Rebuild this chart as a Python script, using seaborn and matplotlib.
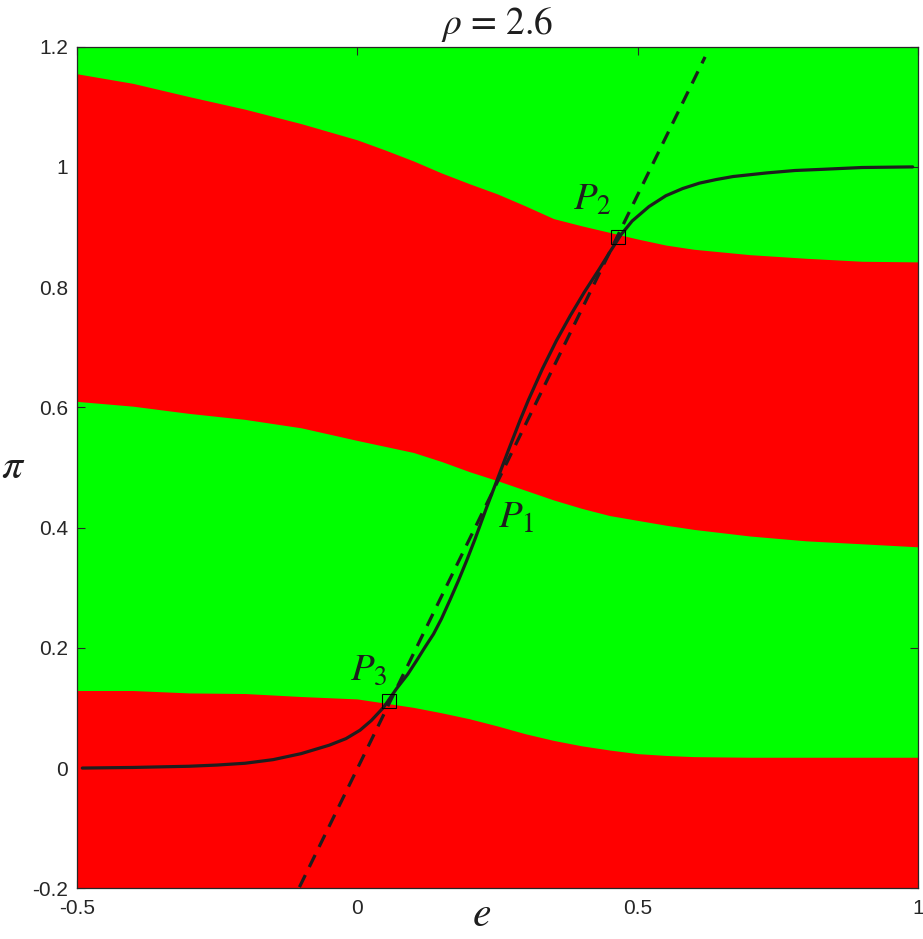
import numpy as np
import matplotlib
matplotlib.use("Agg")
import matplotlib.pyplot as plt
import seaborn as sns

# region boundaries (e on x, pi on y)
e_grid = [-0.5, -0.4, -0.3, -0.2, -0.1, 0.0, 0.05, 0.1, 0.15, 0.2, 0.25,
          0.3, 0.35, 0.4, 0.45, 0.5, 0.55, 0.6, 0.7, 0.8, 0.9, 1.0]
top_edge = [1.155, 1.139, 1.117, 1.096, 1.072, 1.045, 1.028, 1.010, 0.990, 0.972, 0.955,
            0.935, 0.914, 0.902, 0.891, 0.880, 0.870, 0.863, 0.854, 0.848, 0.843, 0.842]
mid_edge = [0.610, 0.602, 0.590, 0.580, 0.566, 0.545, 0.535, 0.525, 0.510, 0.493, 0.478,
            0.462, 0.446, 0.432, 0.420, 0.412, 0.404, 0.397, 0.386, 0.378, 0.373, 0.368]
low_edge = [0.129, 0.129, 0.125, 0.124, 0.119, 0.115, 0.108, 0.101, 0.092, 0.082, 0.070,
            0.057, 0.046, 0.037, 0.030, 0.024, 0.021, 0.019, 0.018, 0.018, 0.018, 0.018]

# solid curve
e_curve = [-0.49, -0.4, -0.3, -0.25, -0.2, -0.15, -0.1, -0.05, -0.02, 0.005, 0.025, 0.047,
           0.07, 0.09, 0.106, 0.12, 0.136, 0.15, 0.165, 0.18, 0.195, 0.21, 0.23, 0.25, 0.27,
           0.29, 0.305, 0.33, 0.355, 0.38, 0.405, 0.43, 0.45, 0.47, 0.49, 0.52, 0.55,
           0.58, 0.61, 0.64, 0.67, 0.7, 0.73, 0.78, 0.83, 0.9, 0.99]
pi_curve = [0.0, 0.001, 0.003, 0.005, 0.008, 0.014, 0.024, 0.038, 0.049, 0.063, 0.079, 0.101,
            0.132, 0.156, 0.179, 0.200, 0.223, 0.248, 0.279, 0.311, 0.345, 0.381, 0.432, 0.481,
            0.530, 0.578, 0.612, 0.664, 0.711, 0.753, 0.792, 0.828, 0.858, 0.887, 0.910, 0.934,
            0.952, 0.964, 0.973, 0.979, 0.984, 0.987, 0.990, 0.994, 0.996, 0.999, 1.0]

# dashed line
e_line = [-0.103, 0.62]
pi_line = [-0.198, 1.183]

# marked intersections P2, P3
e_marks = [0.464, 0.057]
pi_marks = [0.884, 0.111]

red = "#ff0000"
green = "#00ff00"
ink = "#1e1e1e"

sns.set_style("ticks")
plt.rcParams["font.family"] = ["Liberation Sans", "DejaVu Sans"]
plt.rcParams["mathtext.fontset"] = "stix"

fig = plt.figure(figsize=(9.23, 9.39), dpi=100)
ax = fig.add_axes([0.0831, 0.054, 0.9118, 0.8963])
ax.set_facecolor(green)

ax.fill_between(e_grid, -0.2, low_edge, color=red, linewidth=0)
ax.fill_between(e_grid, mid_edge, top_edge, color=red, linewidth=0)

sns.lineplot(x=e_curve, y=pi_curve, color=ink, lw=2.3, sort=False,
             estimator=None, ax=ax)
sns.lineplot(x=e_line, y=pi_line, color=ink, lw=2.3, sort=False,
             estimator=None, ax=ax, linestyle=(0, (4.2, 2.8)))
ax.plot(e_marks, pi_marks, ls="none", marker="s", ms=10, mfc="none",
        mec="black", mew=0.8)

ax.text(0.385, 0.928, r"$P_2$", fontsize=28, color=ink)
ax.text(0.2515, 0.400, r"$P_1$", fontsize=28, color=ink)
ax.text(-0.013, 0.147, r"$P_3$", fontsize=28, color=ink)

ax.set_xlim(-0.5, 1.0)
ax.set_ylim(-0.2, 1.2)
ax.set_xticks([-0.5, 0, 0.5, 1])
ax.set_xticklabels(["-0.5", "0", "0.5", "1"])
ax.set_yticks([-0.2, 0, 0.2, 0.4, 0.6, 0.8, 1.0, 1.2])
ax.set_yticklabels(["-0.2", "0", "0.2", "0.4", "0.6", "0.8", "1", "1.2"])
ax.tick_params(direction="in", top=True, right=True, length=6, width=0.8,
               labelsize=15, colors="#262626")
ax.tick_params(axis="x", pad=8)
ax.tick_params(axis="y", pad=6)
for s in ax.spines.values():
    s.set_visible(True)
    s.set_color("#262626")
    s.set_linewidth(0.9)

ax.set_title(r"$\rho$ = 2.6", fontsize=27, pad=9, color=ink, family="STIXGeneral")
ax.set_xlabel(r"$e$", fontsize=30, color=ink)
ax.xaxis.label.set_va("bottom")
ax.xaxis.set_label_coords(0.4816, -0.0555)
ax.set_ylabel(r"$\pi$", fontsize=30, color=ink, rotation=0)
ax.yaxis.label.set_va("center")
ax.yaxis.label.set_ha("center")
ax.yaxis.set_label_coords(-0.075, 0.5)

fig.savefig("out.png", dpi=100)
